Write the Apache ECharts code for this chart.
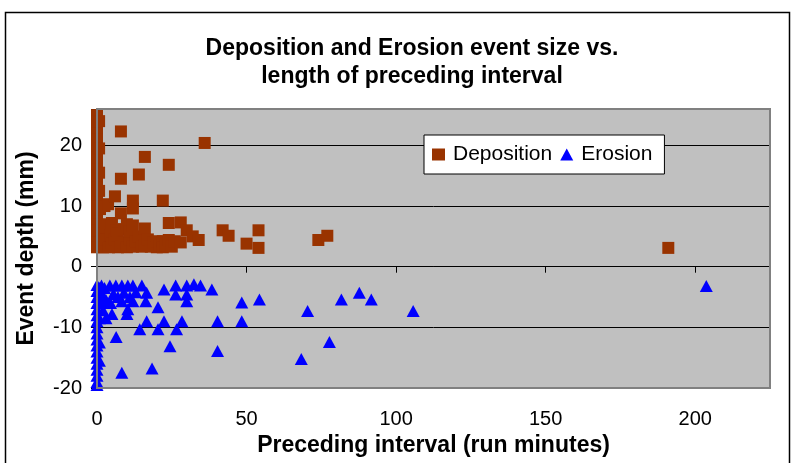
<!DOCTYPE html>
<html>
<head>
<meta charset="utf-8">
<script src="https://cdn.jsdelivr.net/npm/echarts@6/dist/echarts.min.js"></script>
<style>
  html, body { margin: 0; padding: 0; background: #fff; }
  #chart { width: 800px; height: 463px; }
</style>
</head>
<body>
<div id="chart"></div>
<script>
// Deposition events: preceding interval (min) and depth (mm)
const depX = [0, 0, 0, 0, 0, 0, 0, 0, 0, 0, 0, 0, 0, 0, 0, 0, 0, 0, 0, 0, 0, 0, 0,
  0.7, 0.7, 0.7, 0.7, 1, 1, 1.5, 1.5, 2, 2, 2.5, 3, 3, 3.7, 4, 4.5, 5, 5, 6, 6, 6.5, 7, 7,
  8, 8, 8, 8, 9, 9, 10, 10, 11, 11, 12, 12, 12, 12, 13, 14, 14, 15, 16, 16, 16, 17, 18,
  19, 20, 20, 21, 22, 22, 22, 23, 24, 24, 24, 25, 26, 28, 28, 30, 32, 34, 36, 42, 44,
  50, 54, 54, 74, 77, 191];
const depY = [25, 24, 23, 22, 21, 20, 19, 18, 17, 16, 15, 14, 13, 12, 11, 10, 9, 8, 7, 6, 5, 4, 3.2,
  24, 19.5, 15.5, 12.5, 9.5, 3.5, 7, 4.2, 5.5, 3.2, 10, 4.5, 6.5, 10.3, 3.2, 5.2, 3.8, 7.2, 11.6, 4.5,
  6, 3.2, 5.5, 22.3, 14.5, 8.8, 3.3, 6.2, 4, 7, 3.2, 4.5, 5.8, 10.9, 9.6, 6.8, 3.3, 4.2, 15.2, 5,
  3.3, 18.1, 6.3, 3.6, 4.5, 3.3, 4, 3.2, 4.2, 3.5, 10.9, 4.2, 3.2, 3.5, 16.8, 7.2, 4.4, 3.3, 4.2,
  7.3, 4, 6, 5, 4.4, 20.4, 6, 5.1, 3.8, 6, 3.1, 4.4, 5.1, 3.1];

// Erosion events: preceding interval (min) and depth (mm)
const eroX = [0, 0, 0, 0, 0, 0, 0, 0, 0, 0, 0, 0, 0, 0, 0, 0, 0, 0,
  0.8, 0.8, 0.8, 0.8, 0.8, 1, 1.5, 1.5, 2, 2, 2.5, 3, 3, 4.3, 4.5, 5, 5.5, 6.3, 6.4, 7, 8.3,
  8.3, 8.3, 9, 10, 10.3, 10.3, 11, 12, 12, 13, 14.3, 15, 16.3, 16.6, 16.6, 18.4, 20.4, 20.4,
  22.4, 22.4, 24.4, 26.3, 26.3, 26.6, 28.4, 30, 30, 30, 32.4, 34.6, 38.4, 40.3, 40.3, 48.4,
  48.4, 54.3, 68.3, 70.4, 77.7, 81.7, 87.7, 91.7, 105.7, 203.7];
const eroY = [-3, -4, -5, -6, -7, -8, -9, -10, -11, -12, -13, -14, -15, -16, -17, -18, -19, -19.5,
  -3.5, -5.5, -8.5, -12.5, -15.5, -4.2, -6, -3.1, -4.8, -7.2, -3.5, -5.5, -8.5, -3.1, -6, -7.8, -4.5,
  -3.1, -11.6, -5, -3.1, -5.7, -17.5, -4.3, -7.8, -3.1, -7, -5, -3.1, -5.7, -4.2, -10.3, -3.1, -5.7,
  -4.3, -9, -16.8, -6.7, -10.3, -3.75, -9, -13.1, -3.1, -4.6, -10.3, -9, -3.1, -4.6, -5.7, -2.9,
  -3.1, -3.75, -9, -13.9, -5.9, -9, -5.4, -15.2, -7.3, -12.4, -5.4, -4.3, -5.4, -7.3, -3.2];

const titleLines = ['Deposition and Erosion event size vs.', 'length of preceding interval'];
const xTicks = [0, 50, 100, 150, 200];
const yTicks = [-20, -10, 0, 10, 20];

const font = 'Liberation Sans, Arial, sans-serif';
const chart = echarts.init(document.getElementById('chart'));

chart.setOption({
  animation: false,
  title: {
    text: titleLines.join('\n'),
    left: 412,
    top: 35,
    textAlign: 'center',
    padding: 0,
    textStyle: { fontFamily: font, fontSize: 23, fontWeight: 'bold', color: '#000', lineHeight: 28 }
  },
  legend: {
    left: 424,
    top: 135,
    padding: [9, 12, 9, 8],
    itemWidth: 13,
    itemHeight: 12,
    itemGap: 8,
    backgroundColor: '#fff',
    borderColor: '#000',
    borderWidth: 1,
    borderRadius: 0,
    textStyle: { fontFamily: font, fontSize: 21, color: '#000', padding: [0, 0, 0, 3] },
    data: [{ name: 'Deposition', icon: 'rect' }, { name: 'Erosion', icon: 'triangle' }]
  },
  grid: {
    left: 97, right: 30, top: 109, bottom: 75,
    show: true,
    backgroundColor: '#c0c0c0',
    borderWidth: 0
  },
  xAxis: [{
    type: 'value',
    min: 0, max: 225, interval: 50,
    axisLine: { show: true, onZero: true, lineStyle: { color: '#000', width: 1 } },
    axisTick: { show: true, inside: false, length: 6, lineStyle: { color: '#000' } },
    axisLabel: { show: false },
    splitLine: { show: false }
  }, {
    type: 'value',
    position: 'bottom',
    min: 0, max: 225, interval: 50,
    axisLine: { show: false, onZero: false },
    axisTick: { show: false },
    axisLabel: {
      fontFamily: font, fontSize: 20, color: '#000', margin: 21,
      formatter: v => xTicks.includes(v) ? String(v) : ''
    },
    splitLine: { show: false },
    name: 'Preceding interval (run minutes)',
    nameLocation: 'middle',
    nameGap: 46,
    nameTextStyle: { fontFamily: font, fontSize: 23, fontWeight: 'bold', color: '#000' }
  }],
  yAxis: {
    type: 'value',
    min: -20, max: 26, interval: 10,
    axisLine: { show: true, onZero: false, lineStyle: { color: '#000', width: 1 } },
    axisTick: { show: true, length: 6, lineStyle: { color: '#000' } },
    axisLabel: {
      fontFamily: font, fontSize: 20, color: '#000', margin: 15,
      formatter: v => yTicks.includes(v) ? String(v) : ''
    },
    splitLine: { show: true, lineStyle: { color: '#000', width: 1 } },
    name: 'Event depth (mm)',
    nameLocation: 'middle',
    nameGap: 59,
    nameTextStyle: { fontFamily: font, fontSize: 23, fontWeight: 'bold', color: '#000' }
  },
  series: [{
    name: 'Deposition',
    type: 'scatter',
    symbol: 'rect',
    symbolSize: 12,
    itemStyle: { color: '#993300', opacity: 1 },
    data: depX.map((x, i) => [x, depY[i]])
  }, {
    name: 'Erosion',
    type: 'scatter',
    symbol: 'triangle',
    symbolSize: [13, 12],
    itemStyle: { color: '#0000ff', opacity: 1 },
    data: eroX.map((x, i) => [x, eroY[i]])
  }],
  graphic: [{
    type: 'rect',
    z: 100,
    shape: { x: 97, y: 109, width: 673, height: 279 },
    style: { fill: 'none', stroke: '#808080', lineWidth: 2 }
  }, {
    type: 'rect',
    z: 100,
    shape: { x: 5.5, y: 12.5, width: 784, height: 460 },
    style: { fill: 'none', stroke: '#000', lineWidth: 1.5 }
  }]
});
</script>
</body>
</html>
